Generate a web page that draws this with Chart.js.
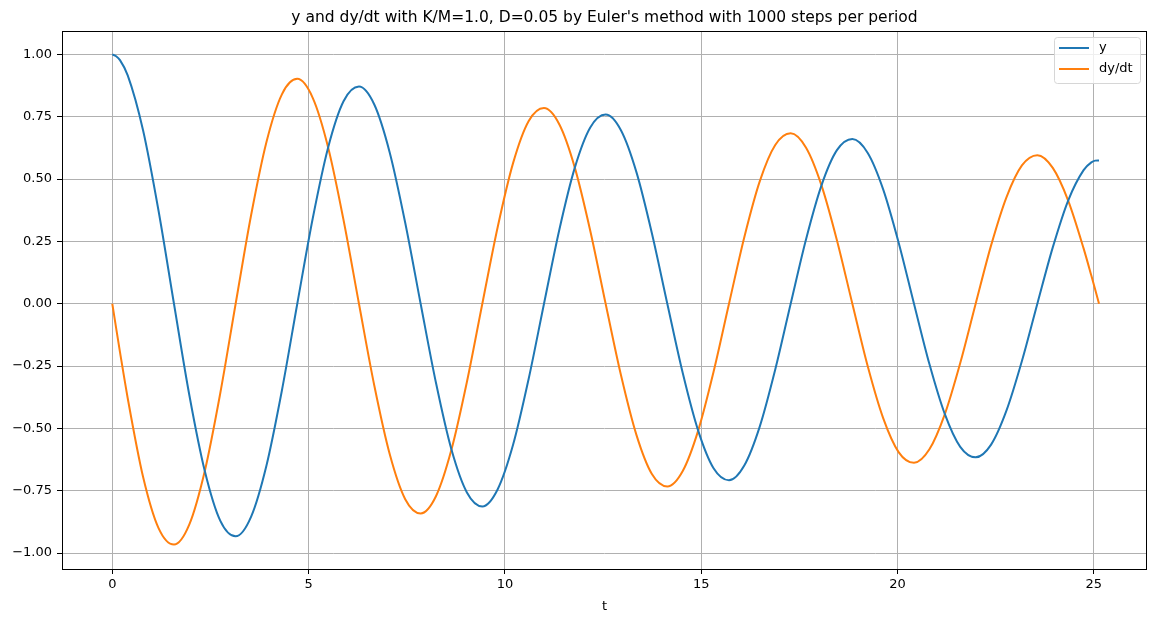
<!DOCTYPE html>
<html>
<head>
<meta charset="utf-8">
<script src="https://cdn.jsdelivr.net/npm/chart.js@4.4.1/dist/chart.umd.min.js"></script>
<style>
  html, body { margin: 0; padding: 0; background: #fff; }
  #wrap { width: 1157px; height: 622px; position: relative; }
</style>
</head>
<body>
<div id="wrap"><canvas id="chart" width="1157" height="622"></canvas></div>
<script>
const tValues = [
    0, 0.098, 0.196, 0.393, 0.785, 1.178, 1.571, 1.963, 2.356, 2.749, 3.142, 3.534, 3.927, 4.320, 4.712,
    5.105, 5.498, 5.890, 6.283, 6.676, 7.069, 7.461, 7.854, 8.247, 8.639, 9.032, 9.425,
    9.817, 10.210, 10.603, 10.996, 11.388, 11.781, 12.174, 12.566, 12.959, 13.352, 13.744,
    14.137, 14.530, 14.923, 15.315, 15.708, 16.101, 16.493, 16.886, 17.279, 17.671, 18.064,
    18.457, 18.850, 19.242, 19.635, 20.028, 20.420, 20.813, 21.206, 21.598, 21.991, 22.384,
    22.777, 23.169, 23.562, 23.955, 24.347, 24.740, 24.937, 25.035, 25.133
];
const yValues = [
    1.000, 0.993, 0.977, 0.916, 0.695, 0.373, 0, -0.367, -0.671, -0.870, -0.933, -0.855, -0.649, -0.348, 0,
    0.342, 0.627, 0.812, 0.871, 0.798, 0.605, 0.325, 0, -0.319, -0.585, -0.757, -0.813,
    -0.744, -0.565, -0.303, 0, 0.298, 0.546, 0.707, 0.759, 0.695, 0.527, 0.283,
    0, -0.278, -0.509, -0.660, -0.708, -0.648, -0.492, -0.264, 0, 0.259, 0.475,
    0.616, 0.661, 0.605, 0.459, 0.246, 0, -0.242, -0.443, -0.574, -0.616, -0.565,
    -0.428, -0.230, 0, 0.226, 0.414, 0.536, 0.567, 0.574, 0.575
];
const dyValues = [
    0, -0.098, -0.194, -0.379, -0.695, -0.900, -0.966, -0.885, -0.671, -0.360, 0, 0.354, 0.649, 0.840, 0.902,
    0.826, 0.627, 0.336, 0, -0.330, -0.605, -0.784, -0.841, -0.771, -0.585, -0.314, 0,
    0.308, 0.565, 0.732, 0.785, 0.719, 0.546, 0.293, 0, -0.288, -0.527, -0.683,
    -0.733, -0.671, -0.509, -0.273, 0, 0.269, 0.492, 0.637, 0.684, 0.626, 0.475,
    0.255, 0, -0.251, -0.459, -0.595, -0.638, -0.584, -0.443, -0.238, 0, 0.234,
    0.428, 0.555, 0.596, 0.545, 0.414, 0.222, 0.113, 0.057, 0
];
const seriesNames = ['y', 'dy/dt'];
const xTicks = [0, 5, 10, 15, 20, 25];
const yTicks = [-1.00, -0.75, -0.50, -0.25, 0.00, 0.25, 0.50, 0.75, 1.00];

const TITLE = "y and dy/dt with K/M=1.0, D=0.05 by Euler's method with 1000 steps per period";
const COLORS = ['#1f77b4', '#ff7f0e'];
const FONT = "'DejaVu Sans', sans-serif";

const toPoints = (xs, ys) => xs.map((x, i) => ({ x: x, y: ys[i] }));

// frame, title, axis label and legend the way matplotlib lays them out
const decorPlugin = {
    id: 'decor',
    afterDraw(chart) {
        const ctx = chart.ctx;
        const a = chart.chartArea;
        ctx.save();
        ctx.strokeStyle = '#000';
        ctx.lineWidth = 1;
        ctx.strokeRect(Math.round(a.left) + 0.5, Math.round(a.top) + 0.5,
            Math.round(a.right - a.left) - 1, Math.round(a.bottom - a.top));

        ctx.fillStyle = '#000';
        ctx.textAlign = 'center';
        ctx.textBaseline = 'alphabetic';
        ctx.font = '15.5px ' + FONT;
        ctx.fillText(TITLE, (a.left + a.right) / 2, 22);
        ctx.font = '13px ' + FONT;
        ctx.fillText('t', (a.left + a.right) / 2, 610);

        // legend box
        const bx = 1054.5, by = 37.5, bw = 86, bh = 46;
        ctx.beginPath();
        ctx.roundRect(bx, by, bw, bh, 3);
        ctx.fillStyle = 'rgba(255,255,255,0.8)';
        ctx.fill();
        ctx.strokeStyle = '#d6d6d6';
        ctx.stroke();
        ctx.textAlign = 'left';
        ctx.textBaseline = 'middle';
        seriesNames.forEach((name, i) => {
            const yy = 48 + i * 21;
            ctx.strokeStyle = COLORS[i];
            ctx.lineWidth = 2;
            ctx.beginPath();
            ctx.moveTo(1059, yy);
            ctx.lineTo(1089, yy);
            ctx.stroke();
            ctx.fillStyle = '#000';
            ctx.fillText(name, 1099, yy);
        });
        ctx.restore();
    }
};

new Chart(document.getElementById('chart'), {
    type: 'line',
    data: {
        datasets: [
            { label: seriesNames[0], data: toPoints(tValues, yValues), borderColor: COLORS[0] },
            { label: seriesNames[1], data: toPoints(tValues, dyValues), borderColor: COLORS[1] }
        ]
    },
    options: {
        responsive: false,
        animation: false,
        layout: { padding: { top: 31, right: 10, left: 0, bottom: 0 } },
        elements: {
            point: { radius: 0 },
            line: { borderWidth: 2, cubicInterpolationMode: 'monotone', fill: false, capBezierPoints: false }
        },
        plugins: { legend: { display: false }, title: { display: false }, tooltip: { enabled: false } },
        scales: {
            x: {
                type: 'linear',
                min: -1.281, max: 26.355,
                afterFit: s => { s.height = 53; },
                afterBuildTicks: s => { s.ticks = xTicks.map(v => ({ value: v })); },
                grid: { color: '#b0b0b0', lineWidth: 1, tickColor: '#000', tickLength: 5 },
                border: { display: false },
                ticks: { color: '#000', font: { family: FONT, size: 13 }, padding: 3, maxRotation: 0,
                         callback: v => String(v) }
            },
            y: {
                type: 'linear',
                min: -1.064, max: 1.094,
                afterFit: s => { s.width = 62; },
                afterBuildTicks: s => { s.ticks = yTicks.map(v => ({ value: v })); },
                grid: { color: '#b0b0b0', lineWidth: 1, tickColor: '#000', tickLength: 5 },
                border: { display: false },
                ticks: { color: '#000', font: { family: FONT, size: 13 }, padding: 5,
                         callback: v => v.toFixed(2).replace('-', '\u2212') }
            }
        }
    },
    plugins: [decorPlugin]
});
</script>
</body>
</html>
